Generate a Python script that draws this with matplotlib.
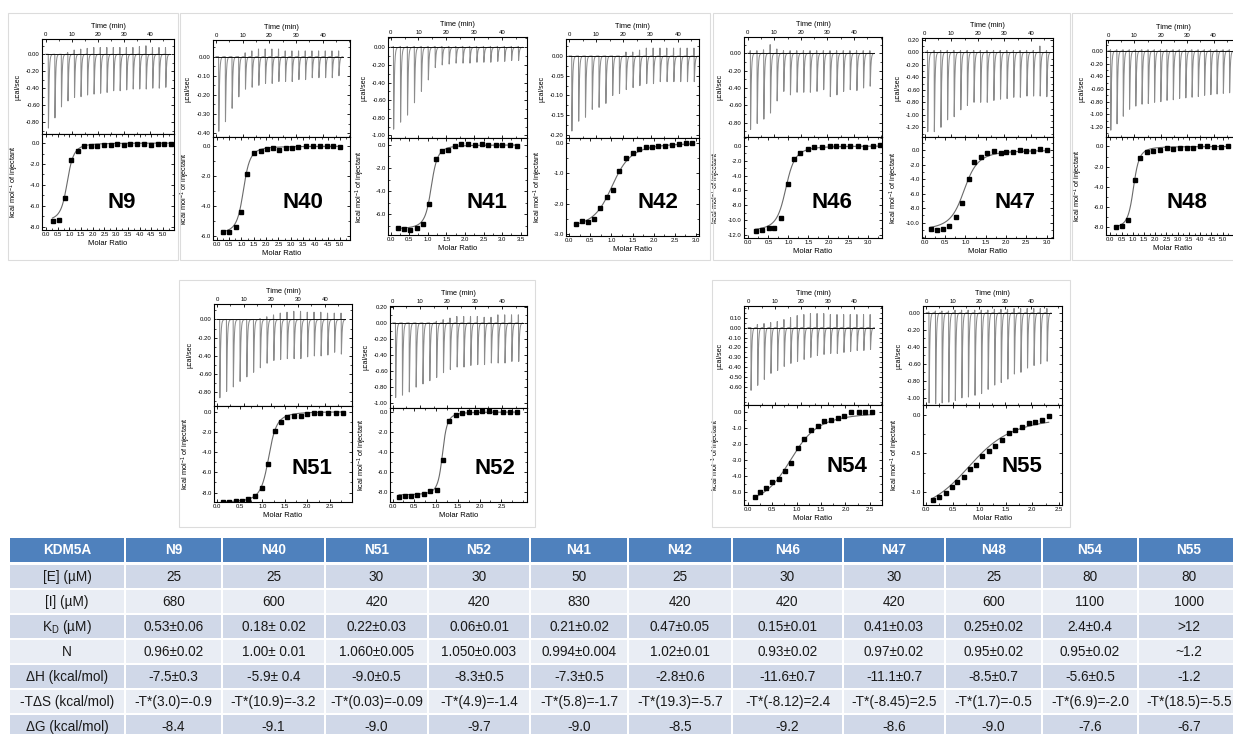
import numpy as np
import matplotlib.pyplot as plt
import matplotlib.ticker as mt
from matplotlib.patches import Rectangle

plt.rcParams['font.family'] = ['Liberation Sans', 'DejaVu Sans']
plt.rcParams['axes.unicode_minus'] = False

W, H = 1233, 734

# ---- ITC raw data: peak heights (ucal/sec) and positive overshoot per injection
n9_peaks = [-0.87, -0.75, -0.62, -0.55, -0.51, -0.50, -0.48, -0.47, -0.46, -0.45,
            -0.43, -0.43, -0.42, -0.41, -0.41, -0.41, -0.40, -0.40, -0.39]
n9_up = [0, 0, 0, 0.02, 0.05, 0.06, 0.07, 0.08, 0.08, 0.08, 0.08, 0.08, 0.08, 0.08,
         0.09, 0.10, 0.08, 0.08, 0.08]
n40_peaks = [-0.39, -0.34, -0.27, -0.21, -0.17, -0.16, -0.15, -0.14, -0.14, -0.13,
             -0.13, -0.13, -0.12, -0.12, -0.11, -0.11, -0.11, -0.11, -0.10]
n40_up = [0, 0, 0, 0, 0.02, 0.03, 0.04, 0.04, 0.04, 0.04, 0.03, 0.03, 0.03, 0.03,
          0.03, 0.03, 0.03, 0.03, 0.03]
n41_peaks = [-0.93, -0.85, -0.77, -0.63, -0.50, -0.37, -0.23, -0.20, -0.19, -0.18,
             -0.18, -0.18, -0.17, -0.17, -0.17, -0.16, -0.16, -0.15, -0.15]
n41_up = [0.01, 0.01, 0.01, 0.01, 0.01, 0.01, 0.01, 0.01, 0.01, 0.01, 0.01, 0.01,
          0.01, 0.01, 0.01, 0.01, 0.01, 0.01, 0.01]
n42_peaks = [-0.19, -0.165, -0.155, -0.135, -0.13, -0.12, -0.10, -0.095, -0.085, -0.08,
             -0.075, -0.07, -0.07, -0.065, -0.065, -0.065, -0.065, -0.065, -0.065]
n42_up = [0, 0, 0, 0, 0, 0, 0, 0, 0.01, 0.01, 0.015, 0.02, 0.02, 0.02, 0.02, 0.02,
          0.02, 0.02, 0.02]
n46_peaks = [-0.88, -0.81, -0.76, -0.69, -0.55, -0.44, -0.48, -0.45, -0.45, -0.45,
             -0.44, -0.42, -0.50, -0.48, -0.44, -0.42, -0.43, -0.40, -0.38]
n46_up = [0.03, 0.03, 0.04, 0.10, 0.05, 0.03, 0.03, 0.03, 0.03, 0.03, 0.03, 0.03,
          0.03, 0.03, 0.03, 0.03, 0.03, 0.03, 0.03]
n47_peaks = [-1.27, -1.27, -1.20, -1.08, -1.03, -0.92, -0.85, -0.80, -0.80, -0.80,
             -0.77, -0.75, -0.74, -0.72, -0.72, -0.70, -0.70, -0.70, -0.71]
n47_up = [0.03, 0.03, 0.03, 0.03, 0.03, 0.03, 0.03, 0.03, 0.03, 0.03, 0.03, 0.03,
          0.03, 0.03, 0.03, 0.03, 0.03, 0.10, 0.03]
n48_peaks = [-1.25, -1.15, -1.03, -0.92, -0.87, -0.84, -0.83, -0.81, -0.80, -0.78,
             -0.77, -0.75, -0.74, -0.73, -0.72, -0.70, -0.69, -0.68, -0.67, -0.66]
n48_up = [0.02, 0.02, 0.02, 0.02, 0.02, 0.02, 0.02, 0.02, 0.02, 0.02, 0.02, 0.02,
          0.02, 0.02, 0.02, 0.02, 0.02, 0.02, 0.02, 0.02]
n51_peaks = [-0.86, -0.79, -0.74, -0.68, -0.63, -0.58, -0.53, -0.48, -0.45, -0.44,
             -0.43, -0.43, -0.43, -0.41, -0.40, -0.40, -0.39, -0.36, -0.38]
n51_up = [0, 0, 0, 0, 0, 0, 0.01, 0.03, 0.05, 0.07, 0.08, 0.09, 0.09, 0.08, 0.08,
          0.08, 0.07, 0.07, 0.07]
n52_peaks = [-0.93, -0.90, -0.86, -0.80, -0.76, -0.72, -0.68, -0.62, -0.58, -0.55,
             -0.55, -0.53, -0.52, -0.52, -0.50, -0.50, -0.50, -0.48, -0.48]
n52_up = [0, 0, 0, 0, 0, 0, 0.02, 0.04, 0.06, 0.08, 0.08, 0.08, 0.08, 0.07, 0.07,
          0.10, 0.10, 0.10, 0.10]
n54_peaks = [-0.63, -0.58, -0.52, -0.46, -0.43, -0.39, -0.36, -0.34, -0.32, -0.30,
             -0.28, -0.27, -0.26, -0.26, -0.25, -0.24, -0.23, -0.23, -0.22]
n54_up = [0.0, 0.03, 0.04, 0.05, 0.06, 0.08, 0.10, 0.12, 0.13, 0.14, 0.14, 0.14,
          0.13, 0.13, 0.13, 0.13, 0.13, 0.13, 0.13]
n55_peaks = [-1.06, -1.07, -1.06, -1.05, -1.03, -1.00, -0.99, -0.97, -0.95, -0.90,
             -0.85, -0.82, -0.78, -0.72, -0.70, -0.65, -0.62, -0.60, -0.57]
n55_up = [0.01, 0.02, 0.02, 0.02, 0.03, 0.03, 0.03, 0.03, 0.03, 0.03, 0.04, 0.04,
          0.04, 0.05, 0.05, 0.05, 0.05, 0.05, 0.05]

# ---- integrated heats (kcal/mol of injectant) vs molar ratio
n9_ratio = [0.28, 0.57, 0.80, 1.08, 1.35, 1.64, 1.92, 2.20, 2.50, 2.78, 3.03, 3.32,
            3.60, 3.90, 4.20, 4.50, 4.77, 5.06, 5.35]
n9_heat = [-7.45, -7.35, -5.25, -1.6, -0.75, -0.3, -0.25, -0.25, -0.15, -0.2, -0.05,
           -0.15, -0.1, -0.1, -0.05, -0.2, -0.1, -0.1, -0.1]
n40_ratio = [0.27, 0.51, 0.77, 1.00, 1.24, 1.51, 1.78, 2.03, 2.27, 2.54, 2.81, 3.05,
             3.31, 3.62, 3.92, 4.19, 4.46, 4.73, 5.00]
n40_heat = [-5.75, -5.75, -5.4, -4.4, -1.85, -0.45, -0.35, -0.2, -0.15, -0.25, -0.1,
            -0.1, -0.05, 0.0, 0.0, 0.0, 0.0, 0.0, -0.05]
n41_ratio = [0.21, 0.37, 0.52, 0.70, 0.86, 1.03, 1.21, 1.39, 1.55, 1.73, 1.90, 2.09,
             2.27, 2.45, 2.63, 2.83, 3.00, 3.20, 3.39]
n41_heat = [-7.2, -7.25, -7.35, -7.2, -6.85, -5.1, -1.25, -0.55, -0.4, -0.05, 0.05,
            0.05, 0.0, 0.05, 0.0, 0.0, 0.0, 0.0, -0.05]
n42_ratio = [0.16, 0.31, 0.44, 0.60, 0.73, 0.89, 1.03, 1.19, 1.35, 1.50, 1.65, 1.81,
             1.95, 2.11, 2.27, 2.43, 2.60, 2.76, 2.91]
n42_heat = [-2.65, -2.57, -2.58, -2.5, -2.13, -1.78, -1.55, -0.93, -0.5, -0.35, -0.2,
            -0.13, -0.15, -0.12, -0.12, -0.08, -0.06, 0.0, 0.0]
n46_ratio = [0.18, 0.34, 0.51, 0.65, 0.81, 0.98, 1.13, 1.30, 1.48, 1.65, 1.83, 2.03,
             2.19, 2.36, 2.54, 2.73, 2.91, 3.11, 3.28]
n46_heat = [-11.45, -11.3, -11.05, -11.0, -9.75, -5.1, -1.8, -1.0, -0.4, -0.1, -0.1,
            0.0, 0.0, 0.0, 0.0, 0.0, -0.1, -0.05, 0.15]
n47_ratio = [0.14, 0.29, 0.45, 0.60, 0.76, 0.92, 1.08, 1.22, 1.38, 1.54, 1.70, 1.87,
             2.01, 2.18, 2.34, 2.50, 2.67, 2.83, 3.00]
n47_heat = [-10.9, -10.95, -10.8, -10.5, -9.2, -7.3, -4.0, -1.6, -0.9, -0.4, -0.1,
            -0.4, -0.3, -0.2, 0.0, -0.15, -0.1, 0.1, 0.0]
n48_ratio = [0.25, 0.52, 0.78, 1.08, 1.33, 1.63, 1.92, 2.19, 2.51, 2.81, 3.10, 3.40,
             3.70, 3.99, 4.29, 4.62, 4.93, 5.25]
n48_heat = [-8.0, -7.9, -7.3, -3.3, -1.15, -0.6, -0.5, -0.35, -0.2, -0.25, -0.2, -0.2,
            -0.15, 0.0, 0.0, -0.05, -0.1, 0.05]
n51_ratio = [0.12, 0.26, 0.41, 0.55, 0.69, 0.84, 0.99, 1.13, 1.28, 1.42, 1.55, 1.70,
             1.85, 1.99, 2.14, 2.28, 2.45, 2.63, 2.80]
n51_heat = [-8.9, -8.95, -8.85, -8.8, -8.6, -8.3, -7.6, -5.2, -1.95, -1.0, -0.55,
            -0.45, -0.45, -0.2, -0.15, -0.15, -0.15, -0.15, -0.15]
n52_ratio = [0.15, 0.28, 0.42, 0.57, 0.72, 0.87, 1.02, 1.16, 1.30, 1.45, 1.60, 1.75,
             1.91, 2.06, 2.21, 2.36, 2.54, 2.69, 2.86]
n52_heat = [-8.5, -8.35, -8.35, -8.25, -8.15, -7.9, -7.75, -4.8, -0.9, -0.25, -0.05,
            0.05, 0.0, 0.1, 0.1, 0.0, 0.0, 0.05, 0.05]
n54_ratio = [0.14, 0.25, 0.38, 0.50, 0.63, 0.77, 0.89, 1.03, 1.15, 1.30, 1.44, 1.56,
             1.70, 1.84, 1.97, 2.12, 2.27, 2.41, 2.55]
n54_heat = [-5.3, -5.0, -4.7, -4.35, -4.15, -3.65, -3.15, -2.25, -1.7, -1.15, -0.9,
            -0.55, -0.5, -0.4, -0.3, -0.05, -0.05, -0.05, 0.0]
n55_ratio = [0.13, 0.25, 0.37, 0.48, 0.59, 0.72, 0.82, 0.94, 1.06, 1.19, 1.30, 1.43,
             1.56, 1.68, 1.81, 1.93, 2.06, 2.19, 2.31]
n55_heat = [-1.1, -1.07, -1.02, -0.93, -0.87, -0.81, -0.7, -0.65, -0.53, -0.47, -0.4,
            -0.33, -0.24, -0.2, -0.16, -0.11, -0.09, -0.06, -0.01]

# one-site fit (n, c, dH) as drawn in each isotherm
n9_fit = (0.93, 40, -7.5)
n40_fit = (1.10, 60, -5.9)
n41_fit = (1.10, 150, -7.3)
n42_fit = (1.07, 20, -2.85)
n46_fit = (0.95, 60, -11.5)
n47_fit = (1.00, 30, -11.1)
n48_fit = (1.05, 60, -8.2)
n51_fit = (1.15, 150, -9.0)
n52_fit = (1.15, 400, -8.3)
n54_fit = (0.97, 10, -6.0)
n55_fit = (1.00, 5, -1.35)

# ---- table
table_head = ['KDM5A', 'N9', 'N40', 'N51', 'N52', 'N41', 'N42', 'N46', 'N47', 'N48', 'N54', 'N55']
row_labels = ['[E] (µM)', '[I] (µM)', r'K$_\mathregular{D}$ (µM)', 'N', 'ΔH (kcal/mol)',
              '-TΔS (kcal/mol)', 'ΔG (kcal/mol)']
conc_e = ['25', '25', '30', '30', '50', '25', '30', '30', '25', '80', '80']
conc_i = ['680', '600', '420', '420', '830', '420', '420', '420', '600', '1100', '1000']
kd = ['0.53±0.06', '0.18± 0.02', '0.22±0.03', '0.06±0.01', '0.21±0.02', '0.47±0.05',
      '0.15±0.01', '0.41±0.03', '0.25±0.02', '2.4±0.4', '>12']
stoich = ['0.96±0.02', '1.00± 0.01', '1.060±0.005', '1.050±0.003', '0.994±0.004',
          '1.02±0.01', '0.93±0.02', '0.97±0.02', '0.95±0.02', '0.95±0.02', '~1.2']
enthalpy = ['-7.5±0.3', '-5.9± 0.4', '-9.0±0.5', '-8.3±0.5', '-7.3±0.5', '-2.8±0.6',
            '-11.6±0.7', '-11.1±0.7', '-8.5±0.7', '-5.6±0.5', '-1.2']
entropy = ['-T*(3.0)=-0.9', '-T*(10.9)=-3.2', '-T*(0.03)=-0.09', '-T*(4.9)=-1.4',
           '-T*(5.8)=-1.7', '-T*(19.3)=-5.7', '-T*(-8.12)=2.4', '-T*(-8.45)=2.5',
           '-T*(1.7)=-0.5', '-T*(6.9)=-2.0', '-T*(18.5)=-5.5']
gibbs = ['-8.4', '-9.1', '-9.0', '-9.7', '-9.0', '-8.5', '-9.2', '-8.6', '-9.0', '-7.6', '-6.7']
table_rows = [conc_e, conc_i, kd, stoich, enthalpy, entropy, gibbs]

# ---- layout of each panel (pixel box L, R, T, split, B; axis ranges; label position)
panels = [
    dict(name='N9', peaks=n9_peaks, up=n9_up, ratio=n9_ratio, heat=n9_heat, fit=n9_fit,
         box=(42, 174, 39, 134, 230), tlim=(-1.4, 49.2), tyl=(-0.94, 0.18),
         tyt=[0, -0.2, -0.4, -0.6, -0.8], rlim=(-0.17, 5.47), byl=(-8.29, 0.86),
         byt=[0, -2, -4, -6, -8], rmax=5.0, lab=(122, 202)),
    dict(name='N40', peaks=n40_peaks, up=n40_up, ratio=n40_ratio, heat=n40_heat, fit=n40_fit,
         box=(213, 350, 40, 137, 240), tlim=(-1.1, 50.2), tyl=(-0.42, 0.087),
         tyt=[0, -0.1, -0.2, -0.3, -0.4], rlim=(-0.15, 5.4), byl=(-6.3, 0.62),
         byt=[0, -2, -4, -6], rmax=5.0, lab=(303, 203)),
    dict(name='N41', peaks=n41_peaks, up=n41_up, ratio=n41_ratio, heat=n41_heat, fit=n41_fit,
         box=(388, 527, 37, 138, 235), tlim=(-0.97, 49.1), tyl=(-1.03, 0.117),
         tyt=[0, -0.2, -0.4, -0.6, -0.8, -1.0], rlim=(-0.07, 3.67), byl=(-7.8, 0.6),
         byt=[0, -2, -4, -6], rmax=3.5, lab=(487, 203)),
    dict(name='N42', peaks=n42_peaks, up=n42_up, ratio=n42_ratio, heat=n42_heat, fit=n42_fit,
         box=(566, 699, 39, 138, 236), tlim=(-1.1, 47.8), tyl=(-0.2076, 0.043),
         tyt=[0, -0.05, -0.10, -0.15, -0.20], rlim=(-0.07, 3.07), byl=(-3.05, 0.15),
         byt=[0, -1, -2, -3], rmax=3.0, lab=(658, 203)),
    dict(name='N46', peaks=n46_peaks, up=n46_up, ratio=n46_ratio, heat=n46_heat, fit=n46_fit,
         box=(744, 882, 37, 137, 238), tlim=(-1.4, 50.5), tyl=(-0.966, 0.188),
         tyt=[0, -0.2, -0.4, -0.6, -0.8], rlim=(-0.11, 3.34), byl=(-12.4, 1.2),
         byt=[0, -2, -4, -6, -8, -10, -12], rmax=3.0, lab=(832, 203)),
    dict(name='N47', peaks=n47_peaks, up=n47_up, ratio=n47_ratio, heat=n47_heat, fit=n47_fit,
         box=(922, 1053, 38, 137, 238), tlim=(-1.1, 48.4), tyl=(-1.355, 0.229),
         tyt=[0.2, 0, -0.2, -0.4, -0.6, -0.8, -1.0, -1.2], rlim=(-0.07, 3.16),
         byl=(-12.1, 1.8), byt=[0, -2, -4, -6, -8, -10], rmax=3.0, lab=(1015, 203)),
    dict(name='N48', peaks=n48_peaks, up=n48_up, ratio=n48_ratio, heat=n48_heat, fit=n48_fit,
         box=(1106, 1240, 40, 137, 235), tlim=(-0.75, 50.0), tyl=(-1.358, 0.173),
         tyt=[0, -0.2, -0.4, -0.6, -0.8, -1.0, -1.2], rlim=(-0.19, 5.77), byl=(-8.8, 0.94),
         byt=[0, -2, -4, -6, -8], rmax=5.0, lab=(1187, 203)),
    dict(name='N51', peaks=n51_peaks, up=n51_up, ratio=n51_ratio, heat=n51_heat, fit=n51_fit,
         box=(214, 352, 304, 406, 502), tlim=(-1.1, 50.0), tyl=(-0.95, 0.17),
         tyt=[0, -0.2, -0.4, -0.6, -0.8], rlim=(-0.07, 2.99), byl=(-8.94, 0.56),
         byt=[0, -2, -4, -6, -8], rmax=2.5, lab=(312, 468)),
    dict(name='N52', peaks=n52_peaks, up=n52_up, ratio=n52_ratio, heat=n52_heat, fit=n52_fit,
         box=(390, 527, 306, 408, 502), tlim=(-1.0, 49.1), tyl=(-1.06, 0.21),
         tyt=[0.2, 0, -0.2, -0.4, -0.6, -0.8, -1.0], rlim=(-0.06, 3.09), byl=(-9.0, 0.4),
         byt=[0, -2, -4, -6, -8], rmax=2.5, lab=(495, 468)),
    dict(name='N54', peaks=n54_peaks, up=n54_up, ratio=n54_ratio, heat=n54_heat, fit=n54_fit,
         box=(744, 882, 306, 405, 505), tlim=(-1.6, 50.4), tyl=(-0.777, 0.216),
         tyt=[0.1, 0, -0.1, -0.2, -0.3, -0.4, -0.5, -0.6], rlim=(-0.08, 2.75),
         byl=(-5.78, 0.41), byt=[0, -1, -2, -3, -4, -5], rmax=2.5, lab=(847, 467)),
    dict(name='N55', peaks=n55_peaks, up=n55_up, ratio=n55_ratio, heat=n55_heat, fit=n55_fit,
         box=(923, 1062, 306, 405, 505), tlim=(-1.25, 51.7), tyl=(-1.084, 0.079),
         tyt=[0, -0.2, -0.4, -0.6, -0.8, -1.0], rlim=(-0.06, 2.56), byl=(-1.17, 0.13),
         byt=[0, -0.5, -1.0], rmax=2.5, lab=(1022, 467)),
]


def spike(s):
    return (1 - np.exp(-s / 0.03)) * np.exp(-s / 0.25)


s_grid = np.linspace(0, 2, 4000)
spike_norm = spike(s_grid).max()


def one_site(x, n, c, dh):
    xr = x / n
    r = 1.0 / c
    return dh * (0.5 + (1 - xr - r) / (2 * np.sqrt((1 + xr + r) ** 2 - 4 * xr)))


def style(ax):
    for sp in ax.spines.values():
        sp.set_linewidth(0.8)
    ax.tick_params(which='major', direction='in', length=2.2, width=0.6, labelsize=4.3,
                   pad=1.5, top=True, right=True, bottom=True, left=True)
    ax.tick_params(which='minor', direction='in', length=1.2, width=0.5,
                   top=True, right=True, bottom=True, left=True)


fig = plt.figure(figsize=(W / 100, H / 100), dpi=100)

for p in panels:
    L, R, T, S, B = p['box']
    axt = fig.add_axes([L / W, 1 - S / H, (R - L) / W, (S - T) / H])
    axb = fig.add_axes([L / W, 1 - B / H, (R - L) / W, (B - S) / H])

    # raw thermogram
    times = np.linspace(1.0, 46.0, len(p['peaks']))
    t = np.arange(0.0, 47.5, 0.004)
    y = np.zeros_like(t)
    for ti, d, u in zip(times, p['peaks'], p['up']):
        s = t - ti
        m = s >= 0
        y[m] += d * spike(s[m]) / spike_norm
        y += u * np.exp(-((s + 0.06) / 0.05) ** 2)
    axt.plot(t, y, color='#8c8c8c', lw=0.75)
    axt.plot([0, 47.5], [0, 0], color='#111111', lw=0.7)
    axt.set_xlim(*p['tlim'])
    axt.set_ylim(*p['tyl'])
    axt.set_xticks([0, 10, 20, 30, 40])
    axt.xaxis.set_minor_locator(mt.MultipleLocator(5))
    axt.set_yticks(p['tyt'])
    axt.yaxis.set_minor_locator(mt.AutoMinorLocator(2))
    axt.yaxis.set_major_formatter(mt.FormatStrFormatter('%.2f'))
    style(axt)
    axt.tick_params(labeltop=True, labelbottom=False)
    axt.xaxis.set_label_position('top')
    axt.set_xlabel('Time (min)', fontsize=5.3, labelpad=2.5)
    axt.set_ylabel('µcal/sec', fontsize=5.0)
    axt.yaxis.set_label_coords(-21.0 / (R - L), 0.5)

    # integrated heats + fit
    xf = np.linspace(p['ratio'][0], p['ratio'][-1], 400)
    axb.plot(xf, one_site(xf, *p['fit']), color='#6a6a6a', lw=0.8)
    axb.plot(p['ratio'], p['heat'], 's', ms=3.0, color='black')
    axb.set_xlim(*p['rlim'])
    axb.set_ylim(*p['byl'])
    axb.set_xticks(np.arange(0, p['rmax'] + 0.01, 0.5))
    axb.xaxis.set_minor_locator(mt.AutoMinorLocator(2))
    axb.set_yticks(p['byt'])
    axb.yaxis.set_minor_locator(mt.AutoMinorLocator(2))
    axb.xaxis.set_major_formatter(mt.FormatStrFormatter('%.1f'))
    axb.yaxis.set_major_formatter(mt.FormatStrFormatter('%.1f'))
    style(axb)
    axb.set_xlabel('Molar Ratio', fontsize=5.5, labelpad=2)
    axb.set_ylabel(r'kcal mol$^{\mathregular{-1}}$ of injectant', fontsize=5.3)
    axb.yaxis.set_label_coords(-21.0 / (R - L), 0.5)

# overlay in pixel coordinates: frames, labels, table
ov = fig.add_axes([0, 0, 1, 1])
ov.set_xlim(0, W)
ov.set_ylim(H, 0)
ov.axis('off')
ov.patch.set_alpha(0)
ov.set_zorder(10)

for x0, y0, x1, y1 in [(8, 13, 178, 260), (180, 13, 710, 260), (713, 13, 1070, 260),
                       (1072, 13, 1250, 260), (179, 280, 535, 527), (712, 280, 1070, 527)]:
    ov.add_patch(Rectangle((x0, y0), x1 - x0, y1 - y0, fill=False, ec='#dcdcdc', lw=0.8))

for p in panels:
    ov.text(p['lab'][0], p['lab'][1], p['name'], fontsize=16, fontweight='bold',
            ha='center', va='center')

col_edges = [9, 125, 222, 325, 428, 530, 628, 732, 843, 945, 1042, 1138, 1240]
head_top, head_bot = 538, 562
row_top0, row_h = 564, 25
blue = '#4f81bd'
shade = ['#d0d8e8', '#e9edf4']

for j in range(len(col_edges) - 1):
    x0, x1 = col_edges[j], col_edges[j + 1]
    ov.add_patch(Rectangle((x0 + 0.7, head_top), x1 - x0 - 1.4, head_bot - head_top,
                           fc=blue, ec='none'))
    ov.text((x0 + x1) / 2, (head_top + head_bot) / 2 + 0.5, table_head[j], color='white',
            fontsize=9.8, fontweight='bold', ha='center', va='center')
    for i in range(len(row_labels)):
        y0 = row_top0 + i * row_h
        ov.add_patch(Rectangle((x0 + 0.7, y0 + 0.7), x1 - x0 - 1.4, row_h - 1.4,
                               fc=shade[i % 2], ec='none'))
        txt = row_labels[i] if j == 0 else table_rows[i][j - 1]
        ov.text((x0 + x1) / 2, y0 + row_h / 2 + 0.5, txt, color='#1a1a1a',
                fontsize=9.8, ha='center', va='center')

fig.savefig('out.png', dpi=100)
